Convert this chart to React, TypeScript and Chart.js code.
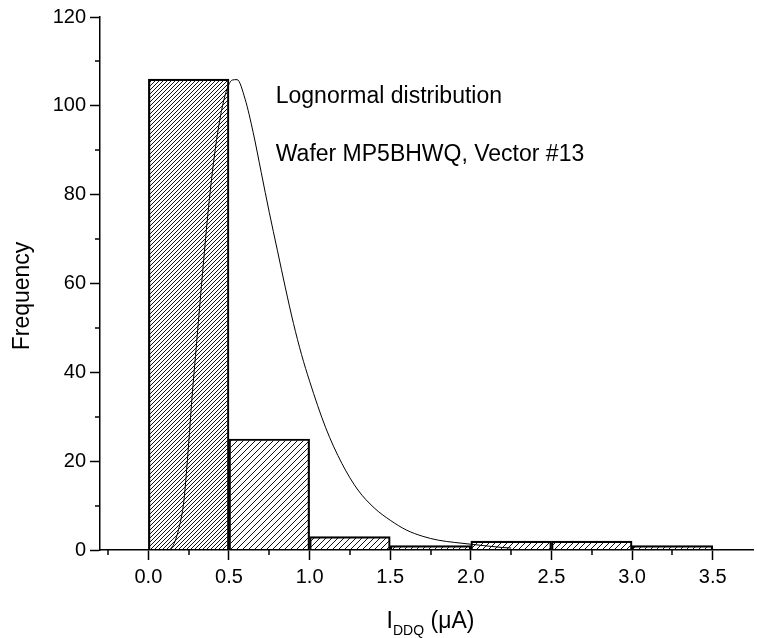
import React, { useEffect, useRef } from 'react';
import { Chart, registerables } from 'chart.js';

Chart.register(...registerables);

// ---- data ----
const binCenters = [0.25, 0.75, 1.25, 1.75, 2.25, 2.75, 3.25];
const frequencies = [106, 25, 3, 1, 2, 2, 1];
const hatchSizes = [4, 6, 6, 6, 6, 6, 6];

const fitX = [0.13, 0.16, 0.19, 0.22, 0.25, 0.27, 0.3, 0.34, 0.37, 0.4, 0.43, 0.46, 0.49, 0.52, 0.55, 0.6, 0.65, 0.7, 0.75, 0.8, 0.85, 0.9, 0.95, 1.0, 1.1, 1.2, 1.3, 1.4, 1.5, 1.6, 1.7, 1.8, 1.9, 2.0, 2.1, 2.2, 2.25];
const fitY = [0, 1.5, 5, 11, 24, 34, 47, 64, 76, 86, 94, 100, 104, 105.8, 105.9, 101.5, 94, 85, 76, 67.5, 59, 51, 44, 38, 27.5, 19.5, 13.5, 9.5, 6.7, 4.5, 3.1, 2.2, 1.7, 1.3, 0.9, 0.55, 0.45];

const xMajorTicks = [0, 0.5, 1, 1.5, 2, 2.5, 3, 3.5];
const xMinorTicks = [-0.25, 0.25, 0.75, 1.25, 1.75, 2.25, 2.75, 3.25];
const yMinorTicks = [10, 30, 50, 70, 90, 110];

const annotationTexts = ['Lognormal distribution', 'Wafer MP5BHWQ, Vector #13'];
const annotationX = [0.79, 0.79];
const annotationY = [102, 89];

const yTitle = 'Frequency';
const xTitleMain = 'I';
const xTitleSub = 'DDQ';
const xTitleRest = ' (\u03BCA)';

const FONT = '"Liberation Sans", Arial, Helvetica, sans-serif';

function makeHatch(ctx: CanvasRenderingContext2D, size: number) {
  const c = document.createElement('canvas');
  c.width = size;
  c.height = size;
  const g = c.getContext('2d')!;
  g.strokeStyle = '#111';
  g.lineWidth = 1;
  g.beginPath();
  g.moveTo(-1, size + 1);
  g.lineTo(size + 1, -1);
  g.moveTo(-1, 1);
  g.lineTo(1, -1);
  g.moveTo(size - 1, size + 1);
  g.lineTo(size + 1, size - 1);
  g.stroke();
  return ctx.createPattern(c, 'repeat')!;
}

const extrasPlugin = {
  id: 'extras',
  afterDraw(chart: any) {
    const ctx: CanvasRenderingContext2D = chart.ctx;
    const xs = chart.scales.x;
    const ys = chart.scales.y;
    ctx.save();
    ctx.strokeStyle = '#000';
    ctx.lineWidth = 1.5;
    xMinorTicks.forEach((v) => {
      const px = Math.round(xs.getPixelForValue(v));
      ctx.beginPath();
      ctx.moveTo(px, ys.bottom);
      ctx.lineTo(px, ys.bottom + 5);
      ctx.stroke();
    });
    yMinorTicks.forEach((v) => {
      const py = Math.round(ys.getPixelForValue(v));
      ctx.beginPath();
      ctx.moveTo(xs.left, py);
      ctx.lineTo(xs.left - 5, py);
      ctx.stroke();
    });

    ctx.fillStyle = '#000';
    ctx.textAlign = 'left';
    ctx.textBaseline = 'middle';
    ctx.font = '23px ' + FONT;
    annotationTexts.forEach((t, i) => {
      ctx.fillText(t, xs.getPixelForValue(annotationX[i]), ys.getPixelForValue(annotationY[i]));
    });

    // y axis title
    ctx.save();
    ctx.translate(23, 296);
    ctx.rotate(-Math.PI / 2);
    ctx.textAlign = 'center';
    ctx.textBaseline = 'middle';
    ctx.font = '23px ' + FONT;
    ctx.fillText(yTitle, 0, 0);
    ctx.restore();

    // x axis title with subscript
    ctx.textBaseline = 'alphabetic';
    ctx.textAlign = 'left';
    const mainFont = '23px ' + FONT;
    const subFont = '14px ' + FONT;
    ctx.font = mainFont;
    const w1 = ctx.measureText(xTitleMain).width;
    const w3 = ctx.measureText(xTitleRest).width;
    ctx.font = subFont;
    const w2 = ctx.measureText(xTitleSub).width;
    const total = w1 + w2 + w3;
    let x = (xs.left + xs.right) / 2 - total / 2 + 4;
    const base = 628;
    ctx.font = mainFont;
    ctx.fillText(xTitleMain, x, base);
    x += w1;
    ctx.font = subFont;
    ctx.fillText(xTitleSub, x, base + 7);
    x += w2;
    ctx.font = mainFont;
    ctx.fillText(xTitleRest, x, base);
    ctx.restore();
  },
};

export default function App() {
  const ref = useRef<HTMLCanvasElement | null>(null);

  useEffect(() => {
    const canvas = ref.current!;
    const ctx = canvas.getContext('2d')!;
    const patterns = hatchSizes.map((s) => makeHatch(ctx, s));

    const chart = new Chart(ctx, {
      type: 'bar',
      data: {
        datasets: [
          {
            type: 'line',
            data: fitX.map((x, i) => ({ x, y: fitY[i] })),
            borderColor: '#000',
            borderWidth: 1,
            pointRadius: 0,
            cubicInterpolationMode: 'monotone',
            fill: false,
            order: 0,
          } as any,
          {
            type: 'bar',
            data: binCenters.map((x, i) => ({ x, y: frequencies[i] })),
            backgroundColor: patterns,
            borderColor: '#000',
            borderWidth: 1.5,
            barPercentage: 1,
            categoryPercentage: 1,
            order: 1,
          } as any,
        ],
      },
      options: {
        animation: false,
        responsive: true,
        maintainAspectRatio: false,
        layout: { padding: { top: 17, right: 4, left: 0, bottom: 0 } },
        plugins: { legend: { display: false }, tooltip: { enabled: false } },
        scales: {
          x: {
            type: 'linear',
            min: -0.3,
            max: 3.75,
            offset: false,
            afterBuildTicks: (scale: any) => {
              scale.ticks = xMajorTicks.map((v) => ({ value: v }));
            },
            afterFit: (scale: any) => {
              scale.height = 88;
            },
            grid: {
              offset: false,
              drawOnChartArea: false,
              drawTicks: true,
              tickLength: 10,
              tickWidth: 1.5,
              tickColor: '#000',
            },
            border: { display: true, color: '#000', width: 1.5 },
            ticks: {
              color: '#000',
              font: { family: FONT, size: 20 },
              padding: 5,
              maxRotation: 0,
              autoSkip: false,
              callback: (v: any) => Number(v).toFixed(1),
            },
          },
          y: {
            type: 'linear',
            min: 0,
            max: 120,
            afterFit: (scale: any) => {
              scale.width = 100;
            },
            grid: {
              drawOnChartArea: false,
              drawTicks: true,
              tickLength: 10,
              tickWidth: 1.5,
              tickColor: '#000',
            },
            border: { display: true, color: '#000', width: 1.5 },
            ticks: {
              stepSize: 20,
              color: '#000',
              font: { family: FONT, size: 20 },
              padding: 4,
            },
          },
        },
      } as any,
      plugins: [extrasPlugin],
    });

    return () => chart.destroy();
  }, []);

  return (
    <div style={{ position: 'fixed', left: 0, top: 0, width: 757, height: 638, background: '#fff' }}>
      <canvas ref={ref} />
    </div>
  );
}
